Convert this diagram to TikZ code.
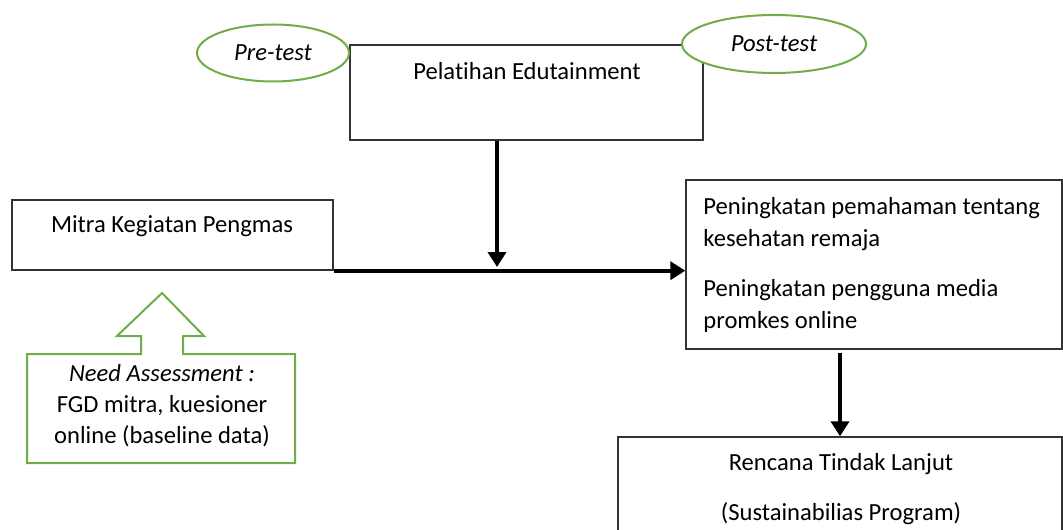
\documentclass[tikz,border=0pt]{standalone}
\usepackage{fontspec}
\setmainfont{Carlito}[RawFeature=-liga]
\usepackage{xcolor}
\usepackage{tikz}
\usetikzlibrary{arrows.meta,positioning,fit,shapes.geometric}
\definecolor{nagreen}{RGB}{112,173,71}

\begin{document}
\begin{tikzpicture}[
    x=0.5pt, y=-0.5pt,
    font=\fontsize{12.3}{16}\selectfont,
    frame/.style={draw=black!80, line width=0.7pt, inner sep=0pt},
    oval/.style={ellipse, draw=nagreen, line width=1pt, fill=white, minimum width=76pt, minimum height=28.5pt, inner sep=0pt, font=\fontsize{12.3}{16}\selectfont\itshape},
    callout/.style={draw=nagreen, line width=1pt, fill=white},
    flow/.style={line width=2pt, -{Triangle[length=7.5pt, width=9pt]}},
    txt/.style={inner sep=0pt, align=center}
]
\useasboundingbox (0,0) rectangle (1063,529);
\clip (0,0) rectangle (1063,529);
% boxes
\node[frame, fit={(350,45) (703,140)}] (pel) {};
\node[frame, fit={(12,200) (333,270)}] (mitra) {};
\node[frame, fit={(686,180) (1062,349)}] (hasil) {};
\node[frame, fit={(618,437) (1062,560)}] (rtl) {};
% texts
\node[txt] (pelT) at (527,71) {Pelatihan Edutainment};
\node[txt] (mitraT) at (172,226) {Mitra Kegiatan Pengmas};
\node[txt, align=left, anchor=base west] (hasilT) at (703,328) {Peningkatan pemahaman tentang\\kesehatan remaja\\[9pt]Peningkatan pengguna media\\promkes online};
\node[txt, font=\fontsize{12.3}{25}\selectfont] (rtlT) at (841,489) {Rencana Tindak Lanjut\\(Sustainabilias Program)};
% pre / post
\node[oval] (pre) at (273,53) {Pre-test};
\node[oval, minimum width=92pt, minimum height=29pt] (post) at (774,44) {Post-test};
% need assessment
\draw[callout] (27,354) -- (141,354) -- (141,336) -- (117,336) -- (162,293) -- (204,336) -- (183,336) -- (183,354) -- (295,354) -- (295,463) -- (27,463) -- cycle;
\node[txt, font=\fontsize{12.3}{15.5}\selectfont] (needT) at (162,406) {\textit{Need Assessment :}\\FGD mitra, kuesioner\\online (baseline data)};
% arrows
\coordinate (meet) at (497,267);
\draw[flow] (pel.south -| meet) -- (meet);
\draw[flow] (mitra.south east) -- (mitra.south east -| hasil.west);
\draw[flow, shorten <=1.5pt] (rtl.north |- hasil.south) -- (rtl.north);
\end{tikzpicture}
\end{document}
